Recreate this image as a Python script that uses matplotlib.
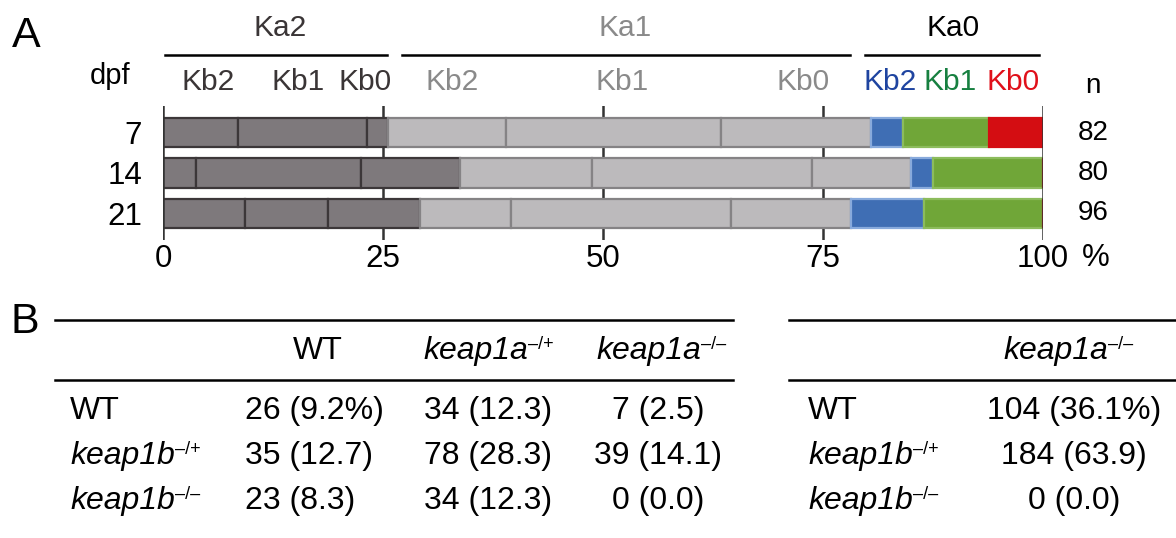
import matplotlib
matplotlib.use("Agg")
import matplotlib.pyplot as plt
import numpy as np

plt.rcParams['font.family'] = ['Liberation Sans', 'DejaVu Sans']

# ---- panel A data (fish counts per class) ----
dpf = ['7', '14', '21']
n_fish = [82, 80, 96]
seg_names = ['Ka2Kb2', 'Ka2Kb1', 'Ka2Kb0', 'Ka1Kb2', 'Ka1Kb1', 'Ka1Kb0', 'Ka0Kb2', 'Ka0Kb1', 'Ka0Kb0']
counts_7 = [7, 12, 2, 11, 20, 14, 3, 8, 5]
counts_14 = [3, 15, 9, 12, 20, 9, 2, 10, 0]
counts_21 = [9, 9, 10, 10, 24, 13, 8, 13, 0]
xticks = [0, 25, 50, 75, 100]

# ---- panel B data: (italic gene name, superscript genotype) ----
left_cols = [('WT', ''), ('keap1a', '\u2013/+'), ('keap1a', '\u2013/\u2013')]
row_labels = [('WT', ''), ('keap1b', '\u2013/+'), ('keap1b', '\u2013/\u2013')]
left_vals = [['26 (9.2%)', '34 (12.3)', '7 (2.5)'],
             ['35 (12.7)', '78 (28.3)', '39 (14.1)'],
             ['23 (8.3)', '34 (12.3)', '0 (0.0)']]
right_col = ('keap1a', '\u2013/\u2013')
right_vals = ['104 (36.1%)', '184 (63.9)', '0 (0.0)']

# segment styles
faces = ['#7e797c'] * 3 + ['#bcbabc'] * 3 + ['#3f6eb4', '#70a638', '#d40d12']
edges = ['#3c3739'] * 3 + ['#858385'] * 3 + ['#88aadc', '#8cbc5c', '#d40d12']

W, H = 1176, 538
fig = plt.figure(figsize=(W / 100, H / 100), dpi=100)

# overlay axes in pixel coordinates for text and rules
ov = fig.add_axes([0, 0, 1, 1])
ov.set_xlim(0, W)
ov.set_ylim(H, 0)
ov.axis('off')

# bar axes: x 0..100 -> px 163..1043, y px 106..240
ax = fig.add_axes([163 / W, 1 - 240 / H, 880 / W, 134 / H])
ax.set_xlim(0, 100)
ax.set_ylim(2.654, -0.654)
for s in ax.spines.values():
    s.set_visible(False)

allcounts = np.array([counts_7, counts_14, counts_21], dtype=float)
pct = allcounts / np.array(n_fish)[:, None] * 100
rows = np.arange(len(dpf))
cum = np.zeros(len(dpf))
for j in range(len(seg_names)):
    ax.barh(rows, pct[:, j], left=cum, height=0.74, color=faces[j],
            edgecolor=edges[j], linewidth=1.6, zorder=3)
    cum += pct[:, j]

for xv in xticks:
    z = 4 if xv in (0, 100) else 1
    ax.axvline(xv, color='#333333', lw=1.8, zorder=z)

ax.set_xticks(xticks)
ax.set_xticklabels(['0', '25', '50', '75', '100'], fontsize=22.5)
ax.set_yticks(rows)
ax.set_yticklabels(dpf, fontsize=22.5)
ax.tick_params(length=0, axis='x', pad=3)
ax.tick_params(length=0, axis='y', pad=15)
ov.text(1096, 258, '%', fontsize=22.5, ha='center', va='center')

for r, nv in zip(rows, n_fish):
    ov.text(1093, 132.5 + 40.5 * r, str(nv), fontsize=20, ha='center', va='center')

# header
ov.text(26, 36, 'A', fontsize=31, ha='center', va='center')
ov.text(110, 76, 'dpf', fontsize=21, ha='center', va='center')
ov.text(1093, 86, 'n', fontsize=20, ha='center', va='center')
ka = [('Ka2', 280, 165, 387, '#3a3536'), ('Ka1', 625, 402, 850, '#8a8a8a'),
      ('Ka0', 953, 865, 1039, 'black')]
for lab, xc, x0, x1, c in ka:
    ov.text(xc, 28, lab, fontsize=21.5, ha='center', va='center', color=c)
    ov.plot([x0, x1], [55, 55], color='black', lw=1.8)
kb = [('Kb2', 208, '#3a3536'), ('Kb1', 298, '#3a3536'), ('Kb0', 365, '#3a3536'),
      ('Kb2', 452, '#8a8a8a'), ('Kb1', 622, '#8a8a8a'), ('Kb0', 803, '#8a8a8a'),
      ('Kb2', 890, '#1f44a0'), ('Kb1', 950, '#178040'), ('Kb0', 1013, '#e0101a')]
for lab, xc, c in kb:
    ov.text(xc, 82, lab, fontsize=21.5, ha='center', va='center', color=c)


# ---- panel B table ----
tfs = 23


def gene(x, y, name, sup):
    # italic gene name with small upright superscript genotype
    if not sup:
        ov.text(x, y, name, fontsize=tfs, ha='left', va='center')
        return
    t = ov.text(x, y, name, fontsize=tfs, ha='left', va='center', style='italic')
    ov.annotate(sup, xy=(1, 1), xycoords=t, xytext=(0.5, 0), textcoords='offset points',
                ha='left', va='top', fontsize=13)


ov.text(25, 322, 'B', fontsize=31, ha='center', va='center')
for yy in (320, 380):
    ov.plot([55, 733], [yy, yy], color='black', lw=1.8)
    ov.plot([789, 1176], [yy, yy], color='black', lw=1.8)

head_y = 351
row_y = [411, 456, 501]
col_x = [245, 424, 658]
col_ha = ['left', 'left', 'center']
head_x = [293, 423, 596]
for hx, (name, sup) in zip(head_x, left_cols):
    gene(hx, head_y, name, sup)
gene(1003, head_y, *right_col)

for i, (name, sup) in enumerate(row_labels):
    gene(70, row_y[i], name, sup)
    gene(808, row_y[i], name, sup)
    for j in range(3):
        ov.text(col_x[j], row_y[i], left_vals[i][j], fontsize=tfs, ha=col_ha[j], va='center')
    ov.text(1074, row_y[i], right_vals[i], fontsize=tfs, ha='center', va='center')

fig.savefig('out.png', dpi=100)
